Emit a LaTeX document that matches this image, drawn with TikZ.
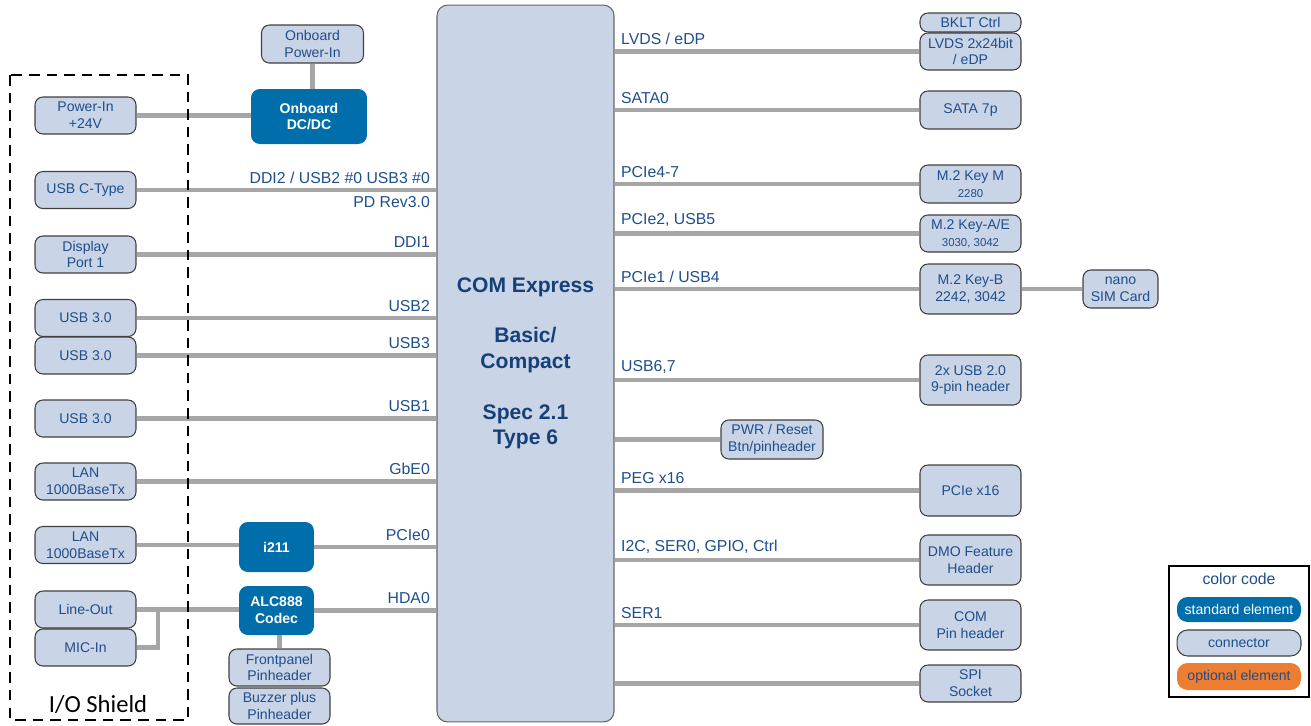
\documentclass[tikz,border=0pt]{standalone}
\usepackage{fontspec}
\setmainfont{Liberation Sans}
\newfontfamily\shieldfont{Carlito}
\usepackage{xcolor}
\usetikzlibrary{positioning}
\definecolor{connfill}{RGB}{201,212,230}
\definecolor{framegray}{RGB}{64,64,64}
\definecolor{textblue}{RGB}{31,78,140}
\definecolor{titleblue}{RGB}{22,64,120}
\definecolor{stdblue}{RGB}{0,110,170}
\definecolor{optorange}{RGB}{237,125,49}
\definecolor{linegray}{RGB}{166,166,166}

\begin{document}
\begin{tikzpicture}[x=0.02cm, y=-0.02cm,
    conn/.style={draw=framegray, fill=connfill, rounded corners=4.5pt, line width=0.6pt,
                 text=textblue, font=\fontsize{8}{9.6}\selectfont, align=center,
                 minimum width=2.02cm, minimum height=0.74cm, inner sep=1pt},
    chip/.style={fill=stdblue, rounded corners=5pt, text=white,
                 font=\bfseries\fontsize{8}{9.6}\selectfont, align=center, inner sep=1pt},
    link/.style={draw=linegray, line width=2.6pt},
    sig/.style={text=textblue, font=\fontsize{9}{11}\selectfont, inner sep=2.5pt}]
    \useasboundingbox (0,0) rectangle (1311,725);

    % COM Express module
    \node[draw=framegray!80, fill=connfill, rounded corners=6pt, line width=0.6pt,
          minimum width=3.54cm, minimum height=14.34cm, text=titleblue,
          font=\bfseries\fontsize{12}{14.7}\selectfont, align=center] (module) at (525.5,363.5)
          {COM Express\\[14pt]Basic/\\Compact\\[14pt]Spec 2.1\\Type 6};

    % I/O shield connectors
    \node[conn] (pwrin) at (85.5,115.5) {Power-In\\+24V};
    \node[conn] (usbc) at (85.5,190) {USB C-Type};
    \node[conn] (dp) at (85.5,254.5) {Display\\Port 1};
    \node[conn] (usba) at (85.5,318) {USB 3.0};
    \node[conn] (usbb) at (85.5,355.5) {USB 3.0};
    \node[conn] (usbd) at (85.5,418.5) {USB 3.0};
    \node[conn] (lana) at (85.5,481.5) {LAN\\1000BaseTx};
    \node[conn] (lanb) at (85.5,545) {LAN\\1000BaseTx};
    \node[conn] (lineout) at (85.5,609.5) {Line-Out};
    \node[conn] (micin) at (85.5,647.5) {MIC-In};

    % Onboard parts (left)
    \node[conn, minimum width=2.04cm, minimum height=0.76cm] (obpwr) at (312.5,44) {Onboard\\Power-In};
    \node[chip, minimum width=2.32cm, minimum height=1.1cm] (dcdc) at (309,116.5) {Onboard\\DC/DC};
    \node[chip, minimum width=1.5cm, minimum height=1.0cm] (lanctl) at (276.5,547) {i211};
    \node[chip, minimum width=1.5cm, minimum height=0.98cm] (codec) at (276.5,610.5) {ALC888\\Codec};
    \node[conn] (frontpnl) at (279.5,667.5) {Frontpanel\\Pinheader};
    \node[conn, minimum height=0.72cm] (buzzer) at (279.5,706) {Buzzer plus\\Pinheader};

    % Carrier connectors (right)
    \node[conn, minimum height=0.38cm] (bklt) at (970.5,22.5) {BKLT Ctrl};
    \node[conn] (lvds) at (970.5,51.5) {LVDS 2x24bit\\/ eDP};
    \node[conn, minimum height=0.76cm] (sata) at (970.5,110) {SATA 7p};
    \node[conn, minimum height=0.76cm] (m2m) at (970.5,184) {M.2 Key M\\{\fontsize{6.5}{7}\selectfont 2280}};
    \node[conn] (m2ae) at (970.5,233.5) {M.2 Key-A/E\\{\fontsize{6.5}{7}\selectfont 3030, 3042}};
    \node[conn, minimum height=1.0cm] (m2b) at (970.5,289) {M.2 Key-B\\2242, 3042};
    \node[conn, minimum width=1.5cm, minimum height=0.76cm] (nanosim) at (1120.5,289) {nano\\SIM Card};
    \node[conn, minimum height=1.0cm] (usbhdr) at (970.5,380) {2x USB 2.0\\9-pin header};
    \node[conn, minimum width=2.04cm, minimum height=0.78cm] (pwrbtn) at (772,439.5) {PWR / Reset\\Btn/pinheader};
    \node[conn, minimum height=1.02cm] (pcie16) at (970.5,490.5) {PCIe x16};
    \node[conn, minimum height=1.0cm] (dmo) at (970.5,560) {DMO Feature\\Header};
    \node[conn, minimum height=1.0cm] (compin) at (970.5,625) {COM\\Pin header};
    \node[conn] (spi) at (970.5,683.5) {SPI\\Socket};

    % Links on the left
    \draw[link] (obpwr) -- (obpwr |- dcdc.north);
    \draw[link] (pwrin) -- (pwrin -| dcdc.west);
    \draw[link] (usbc) -- (usbc -| module.west)
        node[sig, pos=1, above left] {DDI2 / USB2 \#0 USB3 \#0}
        node[sig, pos=1, below left] {PD Rev3.0};
    \draw[link] (dp) -- (dp -| module.west) node[sig, pos=1, above left] {DDI1};
    \draw[link] (usba) -- (usba -| module.west) node[sig, pos=1, above left] {USB2};
    \draw[link] (usbb) -- (usbb -| module.west) node[sig, pos=1, above left] {USB3};
    \draw[link] (usbd) -- (usbd -| module.west) node[sig, pos=1, above left] {USB1};
    \draw[link] (lana) -- (lana -| module.west) node[sig, pos=1, above left] {GbE0};
    \draw[link] (lanb) -- (lanb -| lanctl.west);
    \draw[link] (lanctl) -- (lanctl -| module.west) node[sig, pos=1, above left] {PCIe0};
    \coordinate (audiojoin) at (158,609.5);
    \draw[link] (lineout) -- (lineout -| codec.west);
    \draw[link] (micin.east) -| (audiojoin);
    \draw[link] (codec) -- (codec -| module.west) node[sig, pos=1, above left] {HDA0};
    \draw[link] (frontpnl.north) -- (frontpnl.north |- codec.south);

    % Links on the right
    \draw[link] (module.east |- lvds) -- (lvds) node[sig, pos=0, above right] {LVDS / eDP};
    \draw[link] (module.east |- sata) -- (sata) node[sig, pos=0, above right] {SATA0};
    \draw[link] (module.east |- m2m) -- (m2m) node[sig, pos=0, above right] {PCIe4-7};
    \draw[link] (module.east |- m2ae) -- (m2ae) node[sig, pos=0, above right] {PCIe2, USB5};
    \draw[link] (module.east |- m2b) -- (m2b) node[sig, pos=0, above right] {PCIe1 / USB4};
    \draw[link] (m2b) -- (nanosim);
    \draw[link] (module.east |- usbhdr) -- (usbhdr) node[sig, pos=0, above right] {USB6,7};
    \draw[link] (module.east |- pwrbtn) -- (pwrbtn);
    \draw[link] (module.east |- pcie16) -- (pcie16) node[sig, pos=0, above right] {PEG x16};
    \draw[link] (module.east |- dmo) -- (dmo) node[sig, pos=0, above right] {I2C, SER0, GPIO, Ctrl};
    \draw[link] (module.east |- compin) -- (compin) node[sig, pos=0, above right] {SER1};
    \draw[link] (module.east |- spi) -- (spi);

    % I/O shield frame
    \draw[line width=1pt, dash pattern=on 6pt off 4pt] (10,75) rectangle (188,720);
    \node[font=\shieldfont\fontsize{14}{16}\selectfont] (shield) at (98,704) {I/O Shield};

    % Colour code
    \node[draw, line width=1pt, minimum width=2.8cm, minimum height=2.62cm] (legend) at (1239,631.5) {};
    \node[text=textblue, font=\fontsize{9}{11}\selectfont] (legendtitle) at (1239,579) {color code};
    \node[chip, font=\fontsize{8}{9.6}\selectfont, rounded corners=6pt, minimum width=2.48cm, minimum height=0.5cm] (keystd) at (1239,609.5) {standard element};
    \node[conn, rounded corners=6pt, minimum width=2.48cm, minimum height=0.52cm] (keyconn) at (1239,643) {connector};
    \node[conn, draw=none, fill=optorange, rounded corners=6pt, minimum width=2.48cm, minimum height=0.54cm] (keyopt) at (1239,676.5) {optional element};
\end{tikzpicture}
\end{document}
